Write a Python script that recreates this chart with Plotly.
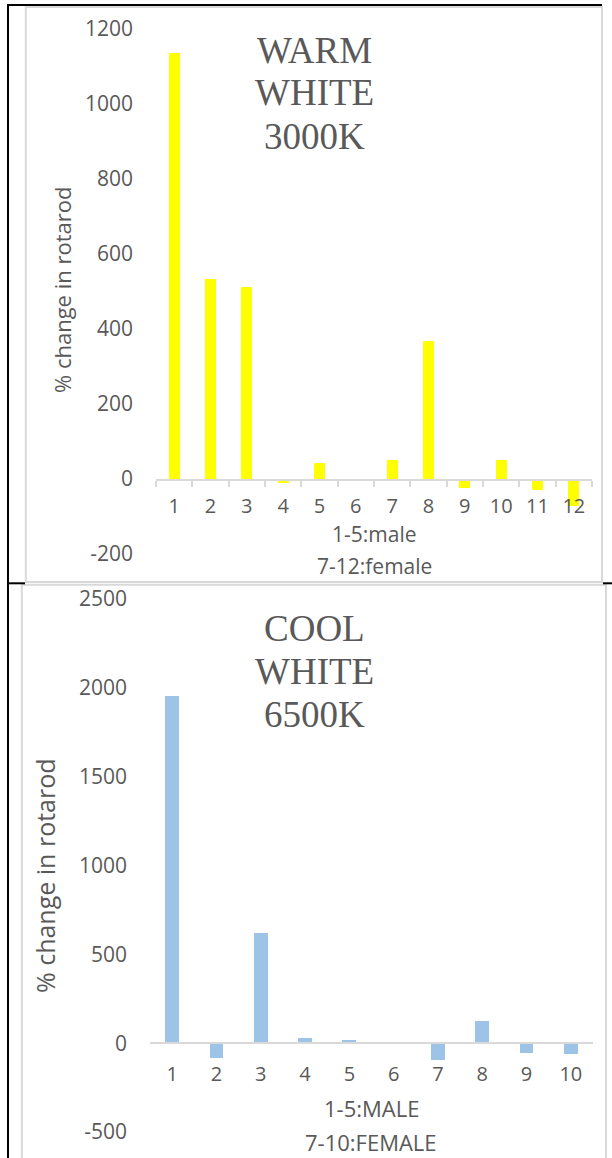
import plotly.graph_objects as go

W, H = 612, 1158

# ---- data ----
warm_cats = ["1", "2", "3", "4", "5", "6", "7", "8", "9", "10", "11", "12"]
warm_vals = [1136, 533, 512, -10, 44, 0, 51, 368, -25, 50, -28, -73]
warm_yticks = [-200, 0, 200, 400, 600, 800, 1000, 1200]

cool_cats = ["1", "2", "3", "4", "5", "6", "7", "8", "9", "10"]
cool_vals = [1953, -81, 619, 28, 20, 0, -96, 122, -55, -59]
cool_yticks = [-500, 0, 500, 1000, 1500, 2000, 2500]

warm_title = ["WARM", "WHITE", "3000K"]
cool_title = ["COOL", "WHITE", "6500K"]
warm_xtitle = ["1-5:male", "7-12:female"]
cool_xtitle = ["1-5:MALE", "7-10:FEMALE"]
ytitle = "% change in rotarod"


def px(x):
    return x / W


def py(y):
    return 1 - y / H


GREY_TXT = "#595959"
AXIS_GREY = "#d9d9d9"
SANS = "Open Sans"

fig = go.Figure()
fig.add_trace(go.Bar(x=warm_cats, y=warm_vals, marker=dict(color="#FFFF00", line=dict(width=0)),
                     width=0.3, xaxis="x", yaxis="y", showlegend=False, hoverinfo="skip"))
fig.add_trace(go.Bar(x=cool_cats, y=cool_vals, marker=dict(color="#9DC3E6", line=dict(width=0)),
                     width=0.31, xaxis="x2", yaxis="y2", showlegend=False, hoverinfo="skip"))

ytickfont = dict(family=SANS, size=21, color=GREY_TXT)
xtickfont = dict(family=SANS, size=20, color=GREY_TXT)

fig.update_layout(
    template="none",
    width=W, height=H, autosize=False,
    margin=dict(l=0, r=0, t=0, b=0, pad=0, autoexpand=False),
    paper_bgcolor="white", plot_bgcolor="white",
    bargap=0,
    xaxis=dict(domain=[px(156), px(592)], type="category", anchor="free", position=py(480),
               showline=True, linecolor=AXIS_GREY, linewidth=1.5,
               ticks="outside", tickson="boundaries", ticklen=6, tickcolor=AXIS_GREY, tickwidth=1.5,
               tickfont=xtickfont, showgrid=False, zeroline=False, ticklabelstandoff=8,
               automargin=False),
    yaxis=dict(domain=[py(554), py(29)], range=[-200, 1200], tickmode="array", tickvals=warm_yticks,
               ticktext=[str(v) for v in warm_yticks],
               showgrid=False, zeroline=False, showline=False, ticks="", tickfont=ytickfont,
               ticklabelstandoff=22, anchor="x", automargin=False),
    xaxis2=dict(domain=[px(150), px(593)], type="category", anchor="free", position=py(1043.3),
                showline=True, linecolor=AXIS_GREY, linewidth=1.5, ticks="",
                tickfont=xtickfont, showgrid=False, zeroline=False, ticklabelstandoff=13,
                automargin=False),
    yaxis2=dict(domain=[py(1132), py(599)], range=[-500, 2500], tickmode="array", tickvals=cool_yticks,
                ticktext=[str(v) for v in cool_yticks],
                showgrid=False, zeroline=False, showline=False, ticks="", tickfont=ytickfont,
                ticklabelstandoff=22, anchor="x2", automargin=False),
)

ann = []
# chart titles (serif)
for text, yy in zip(warm_title, [50, 93, 136]):
    ann.append(dict(text=text, x=px(315), y=py(yy), font=dict(family="Liberation Serif", size=37, color=GREY_TXT)))
for text, yy in zip(cool_title, [628, 671, 714]):
    ann.append(dict(text=text, x=px(315), y=py(yy), font=dict(family="Liberation Serif", size=37, color=GREY_TXT)))
# x titles
for text, yy in zip(warm_xtitle, [534, 566]):
    ann.append(dict(text=text, x=px(374), y=py(yy), font=dict(family=SANS, size=21, color=GREY_TXT)))
for text, yy in zip(cool_xtitle, [1108, 1142]):
    ann.append(dict(text=text, x=px(371.5), y=py(yy), font=dict(family=SANS, size=22, color=GREY_TXT)))
# y titles
ann.append(dict(text=ytitle, x=px(62), y=py(290), textangle=-90, font=dict(family=SANS, size=22, color=GREY_TXT)))
ann.append(dict(text=ytitle, x=px(45), y=py(876), textangle=-90, font=dict(family=SANS, size=25, color=GREY_TXT)))

for a in ann:
    a.update(xref="paper", yref="paper", xanchor="center", yanchor="middle", showarrow=False)
fig.update_layout(annotations=ann)

shapes = []
# chart area borders (light grey)
shapes.append(dict(type="rect", x0=px(25.8), x1=px(602), y0=py(582), y1=py(7), line=dict(color=AXIS_GREY, width=2)))
shapes.append(dict(type="rect", x0=px(21.8), x1=px(606), y0=py(1165), y1=py(584.8), line=dict(color=AXIS_GREY, width=2)))
# table borders (black)
shapes.append(dict(type="line", x0=px(8), x1=px(8), y0=py(4), y1=py(1160), line=dict(color="black", width=2)))
shapes.append(dict(type="line", x0=px(7), x1=px(602), y0=py(5), y1=py(5), line=dict(color="black", width=2)))
shapes.append(dict(type="line", x0=px(7), x1=px(25), y0=py(583.3), y1=py(583.3), line=dict(color="black", width=2)))
shapes.append(dict(type="line", x0=px(603), x1=px(612), y0=py(583.3), y1=py(583.3), line=dict(color="black", width=2)))
for s in shapes:
    s.update(xref="paper", yref="paper")
fig.update_layout(shapes=shapes)

fig.write_html("out.html", config={"displayModeBar": False})
